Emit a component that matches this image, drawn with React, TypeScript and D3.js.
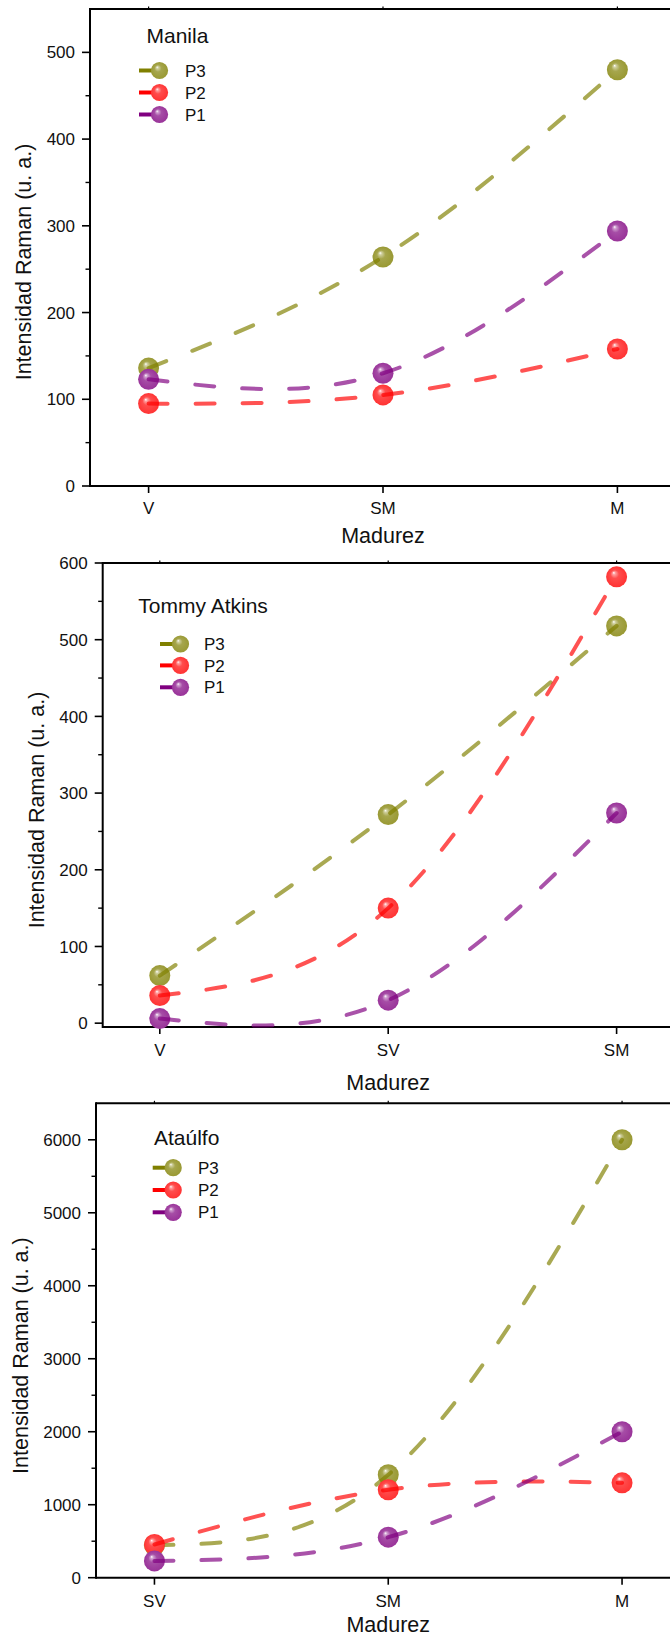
import React from 'react';
import * as d3 from 'd3';

// Series order as listed in the legends (top to bottom)
const seriesNames = ['P3', 'P2', 'P1'];
const seriesColors = ['#808000', '#ff0000', '#800080'];

// Manila
const manilaStages = ['V', 'SM', 'M'];
const manilaP3 = [136, 264, 480];
const manilaP2 = [95, 105, 158];
const manilaP1 = [123, 130, 294];
const manilaTicks = [0, 100, 200, 300, 400, 500];

// Tommy Atkins
const tommyStages = ['V', 'SV', 'SM'];
const tommyP3 = [62, 272, 518];
const tommyP2 = [36, 150, 582];
const tommyP1 = [6, 30, 274];
const tommyTicks = [0, 100, 200, 300, 400, 500, 600];

// Ataúlfo
const ataulfoStages = ['SV', 'SM', 'M'];
const ataulfoP3 = [445, 1410, 6000];
const ataulfoP2 = [455, 1205, 1300];
const ataulfoP1 = [230, 555, 2000];
const ataulfoTicks = [0, 1000, 2000, 3000, 4000, 5000, 6000];

const FONT = '"Liberation Sans", Arial, Helvetica, sans-serif';

function mix(c: string, target: string, t: number) {
  return d3.interpolateRgb(c, target)(t);
}

type PanelProps = {
  idx: number;
  name: string;
  stages: string[];
  series: number[][];
  ticks: number[];
  minorStep: number;
  yDomain: [number, number];
  left: number;
  top: number;
  bottom: number;
  right: number;
  legendX: number;
  legendTitleY: number;
  legendRows: number[];
  legendLineX: number;
  legendTextX: number;
  xLabelDy: number;
  xTitleDy: number;
  yTitleX: number;
  yTitleY: number;
};

function Panel(p: PanelProps) {
  const x = d3.scalePoint<string>().domain(p.stages).range([p.left, p.right]).padding(0.25);
  const y = d3.scaleLinear().domain(p.yDomain).range([p.bottom, p.top]);
  const minors = d3.range(p.minorStep, p.yDomain[1], p.minorStep * 2);
  const line = d3
    .line<number>()
    .x((_, i) => x(p.stages[i]) as number)
    .y((v) => y(v))
    .curve(d3.curveNatural);
  const xMid = x(p.stages[1]) as number;

  return (
    <g>
      {/* axes frame */}
      <line x1={p.left} x2={670} y1={p.top} y2={p.top} stroke="#000" strokeWidth={2} />
      <line x1={p.left} x2={670} y1={p.bottom} y2={p.bottom} stroke="#000" strokeWidth={2} />
      <line x1={p.left} x2={p.left} y1={p.top - 1} y2={p.bottom + 1} stroke="#000" strokeWidth={2} />

      {/* y ticks */}
      {p.ticks.map((t) => (
        <g key={'t' + t}>
          <line x1={p.left - 8} x2={p.left} y1={y(t)} y2={y(t)} stroke="#000" strokeWidth={1.6} />
          <text
            x={p.left - 15}
            y={y(t)}
            dy="0.36em"
            textAnchor="end"
            fontSize={17}
            fontFamily={FONT}
            fill="#111"
          >
            {t}
          </text>
        </g>
      ))}
      {minors.map((t) => (
        <line key={'m' + t} x1={p.left - 4.5} x2={p.left} y1={y(t)} y2={y(t)} stroke="#000" strokeWidth={1.4} />
      ))}

      {/* x ticks */}
      {p.stages.map((s) => (
        <g key={'x' + s}>
          <line x1={x(s)} x2={x(s)} y1={p.bottom} y2={p.bottom + 7} stroke="#000" strokeWidth={1.6} />
          <line x1={x(s)} x2={x(s)} y1={p.top} y2={p.top - 2.5} stroke="#000" strokeWidth={1.2} />
          <text
            x={x(s)}
            y={p.bottom + p.xLabelDy}
            dy="0.36em"
            textAnchor="middle"
            fontSize={17}
            fontFamily={FONT}
            fill="#111"
          >
            {s}
          </text>
        </g>
      ))}

      {/* axis titles */}
      <text
        x={xMid}
        y={p.bottom + p.xTitleDy}
        dy="0.36em"
        textAnchor="middle"
        fontSize={21.5}
        fontFamily={FONT}
        fill="#111"
      >
        Madurez
      </text>
      <text
        transform={`translate(${p.yTitleX},${p.yTitleY}) rotate(-90)`}
        dy="0.36em"
        textAnchor="middle"
        fontSize={21.5}
        fontFamily={FONT}
        fill="#111"
      >
        Intensidad Raman (u. a.)
      </text>

      {/* data: markers then dashed spline, P3 first so P1 sits on top */}
      {p.series.map((vals, si) => (
        <g key={'s' + si}>
          {vals.map((v, i) => (
            <circle
              key={i}
              cx={x(p.stages[i])}
              cy={y(v)}
              r={10.5}
              fill={`url(#sphere-${si})`}
            />
          ))}
          <path
            d={line(vals) || ''}
            fill="none"
            stroke={seriesColors[si]}
            strokeOpacity={0.68}
            strokeWidth={4}
            strokeLinecap="round"
            strokeDasharray="19 28"
          />
        </g>
      ))}

      {/* legend */}
      <text x={p.legendX} y={p.legendTitleY} fontSize={21} fontFamily={FONT} fill="#111">
        {p.name}
      </text>
      {seriesNames.map((n, si) => {
        const cy = p.legendRows[si];
        const cx = p.legendLineX + 20.5;
        return (
          <g key={'l' + n}>
            <line x1={p.legendLineX} x2={cx} y1={cy} y2={cy} stroke={seriesColors[si]} strokeWidth={4} />
            <circle cx={cx} cy={cy} r={8.6} fill={`url(#sphere-${si})`} />
            <text x={p.legendTextX} y={cy} dy="0.36em" fontSize={17} fontFamily={FONT} fill="#111">
              {n}
            </text>
          </g>
        );
      })}
    </g>
  );
}

export default function App() {
  return (
    <svg
      width={670}
      height={1634}
      viewBox="0 0 670 1634"
      style={{ position: 'absolute', left: 0, top: 0, background: '#fff' }}
    >
      <defs>
        {seriesColors.map((c, i) => (
          <radialGradient key={i} id={`sphere-${i}`} cx="0.5" cy="0.5" r="0.5" fx="0.36" fy="0.3">
            <stop offset="0" stopColor="#ffffff" />
            <stop offset="0.14" stopColor={mix(c, '#fff', 0.62)} />
            <stop offset="0.4" stopColor={mix(c, '#fff', 0.3)} />
            <stop offset="1" stopColor={mix(c, '#fff', 0.2)} />
          </radialGradient>
        ))}
      </defs>
      <rect x={0} y={0} width={670} height={1634} fill="#fff" />

      <Panel
        idx={0}
        name="Manila"
        stages={manilaStages}
        series={[manilaP3, manilaP2, manilaP1]}
        ticks={manilaTicks}
        minorStep={50}
        yDomain={[0, 550]}
        left={90}
        top={9}
        bottom={486}
        right={676}
        legendX={146.5}
        legendTitleY={42.5}
        legendRows={[70.5, 92.5, 114.5]}
        legendLineX={139}
        legendTextX={185}
        xLabelDy={22}
        xTitleDy={49}
        yTitleX={23.5}
        yTitleY={262}
      />
      <Panel
        idx={1}
        name="Tommy Atkins"
        stages={tommyStages}
        series={[tommyP3, tommyP2, tommyP1]}
        ticks={tommyTicks}
        minorStep={50}
        yDomain={[-5, 600]}
        left={102.7}
        top={563}
        bottom={1027}
        right={673.7}
        legendX={138.3}
        legendTitleY={613}
        legendRows={[644, 665.4, 687.3]}
        legendLineX={160}
        legendTextX={204}
        xLabelDy={23}
        xTitleDy={55}
        yTitleX={36.7}
        yTitleY={810}
      />
      <Panel
        idx={2}
        name="Ataúlfo"
        stages={ataulfoStages}
        series={[ataulfoP3, ataulfoP2, ataulfoP1]}
        ticks={ataulfoTicks}
        minorStep={500}
        yDomain={[0, 6500]}
        left={96}
        top={1103.3}
        bottom={1577.7}
        right={680.5}
        legendX={154}
        legendTitleY={1145}
        legendRows={[1167.7, 1190, 1212.3]}
        legendLineX={152.7}
        legendTextX={198}
        xLabelDy={23}
        xTitleDy={47}
        yTitleX={20}
        yTitleY={1355.6}
      />
    </svg>
  );
}
